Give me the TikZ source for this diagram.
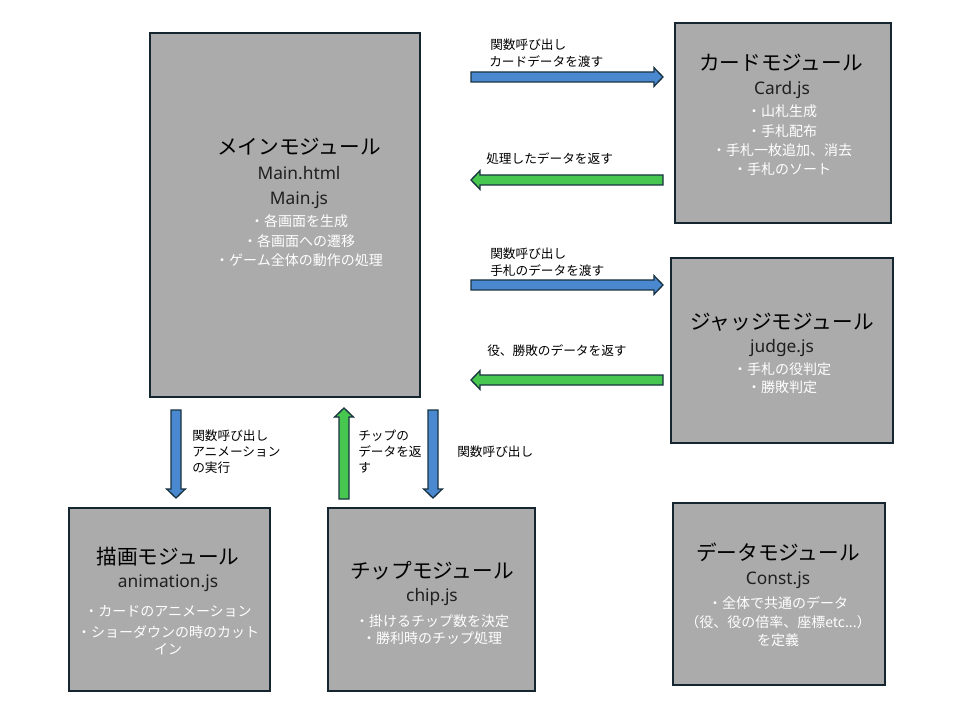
\documentclass[tikz,border=0pt]{standalone}
\usepackage{fontspec}
\setmainfont{Noto Sans CJK JP}
\newfontfamily\filefont{Noto Sans}
\usetikzlibrary{calc,fit}
\definecolor{boxfill}{RGB}{171,171,171}
\definecolor{boxline}{RGB}{22,38,48}
\definecolor{arrblue}{RGB}{74,137,207}
\definecolor{arrgreen}{RGB}{72,199,80}
\definecolor{arrline}{RGB}{25,50,65}
\tikzset{
  module/.style={draw=boxline, line width=1.5pt, fill=boxfill, inner sep=0pt},
  title/.style={font=\fontsize{15.5}{18}\selectfont, text=black, inner sep=0pt},
  file/.style={font=\filefont\fontsize{13}{15}\selectfont, text=black!88, inner sep=0pt},
  item/.style={font=\fontsize{10.5}{13}\selectfont, text=white, inner sep=0pt},
  lbl/.style={font=\fontsize{9.5}{12}\selectfont, text=black, inner sep=0pt, anchor=west},
  blockarrow/.style={draw=arrline, line width=1pt, line join=miter},
}
\newcommand\blockarrow[3]{%
  \draw[blockarrow, fill=#1]
    ($(#2)!3.75pt!90:(#3)$) --
    ($(#3)!6.75pt!(#2)!3.75pt!90:(#3)$) --
    ($(#3)!6.75pt!(#2)!7pt!90:(#3)$) --
    (#3) --
    ($(#3)!6.75pt!(#2)!7pt!-90:(#3)$) --
    ($(#3)!6.75pt!(#2)!3.75pt!-90:(#3)$) --
    ($(#2)!3.75pt!-90:(#3)$) -- cycle;}
\begin{document}
\begin{tikzpicture}[x=0.75pt,y=-0.75pt]
\useasboundingbox (0,0) rectangle (960,720);
\fill[white] (0,0) rectangle (960,720);

% boxes
\node[module, fit={(150,33) (420,397)}] (main) {};
\node[module, fit={(675,23) (891,223)}] (card) {};
\node[module, fit={(671,258) (893,443)}] (judge) {};
\node[module, fit={(69,508) (270,691)}] (anim) {};
\node[module, fit={(328,508) (535,691)}] (chip) {};
\node[module, fit={(673,503) (885,685)}] (data) {};

% main text
\node[title] (mainT) at (299,147) {メインモジュール};
\node[file] (mainF1) at (299,173) {Main.html};
\node[file] (mainF2) at (299,200) {Main.js};
\node[item] (mainI1) at (299,221) {・各画面を生成};
\node[item] (mainI2) at (299,241) {・各画面への遷移};
\node[item] (mainI3) at (299,260) {・ゲーム全体の動作の処理};

% card text
\node[title] (cardT) at (781,63) {カードモジュール};
\node[file] (cardF) at (782,90) {Card.js};
\node[item] (cardI1) at (782,111) {・山札生成};
\node[item] (cardI2) at (782,131) {・手札配布};
\node[item] (cardI3) at (782,150) {・手札一枚追加、消去};
\node[item] (cardI4) at (782,169) {・手札のソート};

% judge text
\node[title] (judgeT) at (782,322) {ジャッジモジュール};
\node[file] (judgeF) at (782,348) {judge.js};
\node[item] (judgeI1) at (782,369) {・手札の役判定};
\node[item] (judgeI2) at (782,387) {・勝敗判定};

% anim text
\node[title] (animT) at (168,557) {描画モジュール};
\node[file] (animF) at (168,583) {animation.js};
\node[item] (animI1) at (168,611) {・カードのアニメーション};
\node[item] (animI2) at (168,632) {・ショーダウンの時のカット};
\node[item] (animI3) at (168,649) {イン};

% chip text
\node[title] (chipT) at (432,571) {チップモジュール};
\node[file] (chipF) at (432,597) {chip.js};
\node[item] (chipI1) at (432,621) {・掛けるチップ数を決定};
\node[item] (chipI2) at (432,638) {・勝利時のチップ処理};

% data text
\node[title] (dataT) at (778,552) {データモジュール};
\node[file] (dataF) at (778,580) {Const.js};
\node[item] (dataI1) at (778,603) {・全体で共通のデータ};
\node[item] (dataI2) at (778,622) {（役、役の倍率、座標etc...）};
\node[item] (dataI3) at (778,640) {を定義};

% arrow end points
\coordinate (r1a) at (471,77);  \coordinate (r1b) at (663,77);
\coordinate (l1a) at (663,180); \coordinate (l1b) at (471,180);
\coordinate (r2a) at (471,285); \coordinate (r2b) at (663,285);
\coordinate (l2a) at (663,380); \coordinate (l2b) at (471,380);
\coordinate (d1a) at (176,410); \coordinate (d1b) at (176,498);
\coordinate (u1a) at (344,499); \coordinate (u1b) at (344,408);
\coordinate (d2a) at (433,410); \coordinate (d2b) at (433,498);

\blockarrow{arrblue}{r1a}{r1b}
\blockarrow{arrgreen}{l1a}{l1b}
\blockarrow{arrblue}{r2a}{r2b}
\blockarrow{arrgreen}{l2a}{l2b}
\blockarrow{arrblue}{d1a}{d1b}
\blockarrow{arrgreen}{u1a}{u1b}
\blockarrow{arrblue}{d2a}{d2b}

% arrow labels
\node[lbl] (lab1a) at (490,45) {関数呼び出し};
\node[lbl] (lab1b) at (489,62) {カードデータを渡す};
\node[lbl] (lab2) at (486,159) {処理したデータを返す};
\node[lbl] (lab3a) at (490,254) {関数呼び出し};
\node[lbl] (lab3b) at (490,271) {手札のデータを渡す};
\node[lbl] (lab4) at (487,351) {役、勝敗のデータを返す};
\node[lbl] (lab5a) at (192,436) {関数呼び出し};
\node[lbl] (lab5b) at (192,452) {アニメーション};
\node[lbl] (lab5c) at (192,468) {の実行};
\node[lbl] (lab6a) at (358,436) {チップの};
\node[lbl] (lab6b) at (358,452) {データを返};
\node[lbl] (lab6c) at (358,468) {す};
\node[lbl] (lab7) at (457,452) {関数呼び出し};
\end{tikzpicture}
\end{document}
